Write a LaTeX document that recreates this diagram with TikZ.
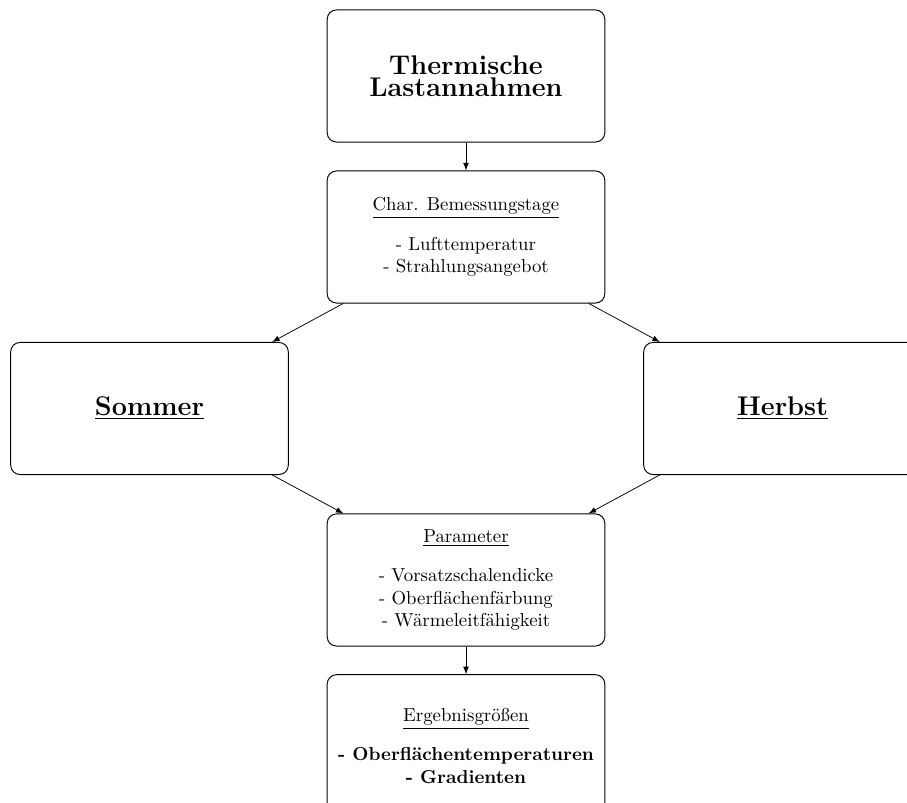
\documentclass[tikz,border=0pt]{standalone}
\usepackage{fontspec}
\usetikzlibrary{arrows}
\tikzset{
  box/.style={draw, rounded corners=5pt, minimum width=148pt, minimum height=70.4pt, align=center, inner sep=0pt, line width=0.5pt},
  conn/.style={-latex, line width=0.4pt}
}
\begin{document}
\begin{tikzpicture}[x=0.533pt, y=-0.533pt]
\path[use as bounding box, clip] (0,0) rectangle (907,803);
\node[box] (top) at (466,76) {\Large\bfseries Thermische\\\Large\bfseries Lastannahmen};
\node[box] (char) at (466,237) {\underline{Char. Bemessungstage}\\[9pt]- Lufttemperatur\\- Strahlungsangebot};
\node[box] (sommer) at (149.5,408.5) {\Large\bfseries\underline{Sommer}};
\node[box] (herbst) at (782.5,408.5) {\Large\bfseries\underline{Herbst}};
\node[box] (param) at (466,580) {\underline{Parameter}\\[9pt]- Vorsatzschalendicke\\- Oberflächenfärbung\\- Wärmeleitfähigkeit};
\node[box, minimum height=76pt] (erg) at (466,746) {\underline{Ergebnisgrößen}\\[9pt]\textbf{- Oberflächentemperaturen}\\\textbf{- Gradienten}};
\draw[conn] (top) -- (char);
\draw[conn] (char) -- (sommer);
\draw[conn] (char) -- (herbst);
\draw[conn] (sommer) -- (param);
\draw[conn] (herbst) -- (param);
\draw[conn] (param) -- (erg);
\end{tikzpicture}
\end{document}
